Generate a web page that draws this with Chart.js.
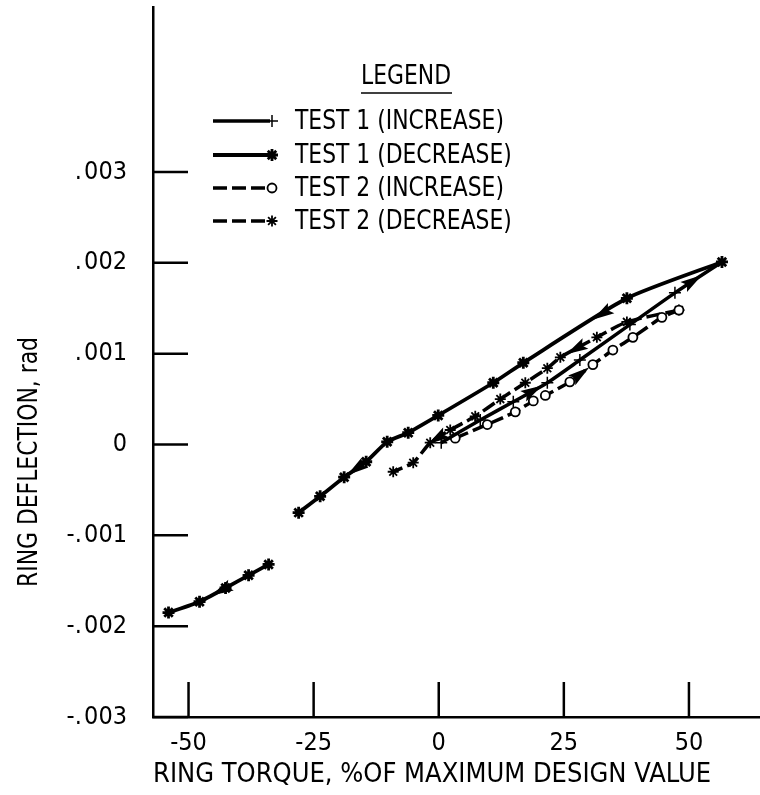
<!DOCTYPE html>
<html>
<head>
<meta charset="utf-8">
<script src="https://cdn.jsdelivr.net/npm/chart.js@4.4.1/dist/chart.umd.min.js"></script>
<style>
  html, body { margin: 0; padding: 0; background: #fff; overflow: hidden; }
  #wrap { width: 760px; height: 795px; position: relative; }
  canvas { display: block; }
</style>
</head>
<body>
<div id="wrap"><canvas id="chart"></canvas></div>
<script>
// Ticks
const xTickValues = [-50, -25, 0, 25, 50];
const yTickValues = [-0.003, -0.002, -0.001, 0, 0.001, 0.002, 0.003];
const yTickLabels = ['-.\u200A003', '-.\u200A002', '-.\u200A001', '0', '.\u200A001', '.\u200A002', '.\u200A003'];

// Series (torque in % of max design value, deflection in rad)
const seriesLabels = ['TEST 1 (INCREASE)', 'TEST 1 (DECREASE)', 'TEST 2 (INCREASE)', 'TEST 2 (DECREASE)'];

const test1IncTorque = [0.5, 8.3, 14.9, 21.7, 28.2, 38.2, 47.2, 56.6];
const test1IncDefl = [0.00002, 0.00027, 0.00047, 0.00068, 0.00093, 0.00132, 0.00167, 0.00201];

const test1DecTorque = [56.6, 37.6, 16.9, 10.9, -0.1, -6.1, -10.3, -14.5, -18.9, -23.7, -28.0, -31.0, -34.0, -38.0, -42.6, -47.8, -54.0];
const test1DecDefl = [0.00201, 0.00161, 0.00090, 0.00068, 0.00032, 0.00013, 0.00003, -0.00019, -0.00036, -0.00057, -0.00075, null, -0.00132, -0.00144, -0.00158, -0.00173, -0.00185];

const test2IncTorque = [3.3, 9.7, 15.3, 18.9, 21.3, 26.2, 30.8, 34.8, 38.8, 44.6, 48.0];
const test2IncDefl = [0.00007, 0.00022, 0.00036, 0.00048, 0.00054, 0.00069, 0.00088, 0.00104, 0.00118, 0.00140, 0.00148];

const test2DecTorque = [48.0, 37.6, 31.6, 24.3, 21.7, 17.3, 12.3, 7.3, 2.3, -1.7, -5.1, -9.1];
const test2DecDefl = [0.00148, 0.00135, 0.00118, 0.00096, 0.00084, 0.00068, 0.00050, 0.00031, 0.00016, 0.00002, -0.00020, -0.00030];

// Direction arrows: [dataset, segment start index, fraction along segment]
const arrowMarks = [
  [0, 2, 0.6], [0, 6, 0.4],
  [1, 1, 0.25], [1, 7, 0.5], [1, 14, 0.2],
  [2, 5, 0.5],
  [3, 2, 0.6], [3, 8, 0.7]
];

const FONT = "'DejaVu Sans Condensed', 'Liberation Sans Narrow', sans-serif";
Chart.defaults.font.family = FONT;
Chart.defaults.color = '#000';

function toPoints(xs, ys) {
  return xs.map((x, i) => ({ x: x, y: ys[i] }));
}

// tall, slightly condensed text like the original lettering
function tallText(ctx, text, x, y, size, align) {
  ctx.save();
  ctx.translate(x, y);
  ctx.scale(0.9, 1);
  ctx.font = size + 'px ' + FONT;
  ctx.textAlign = align;
  ctx.textBaseline = 'middle';
  ctx.fillText(text, 0, 0);
  ctx.restore();
}

// Draw inward tick marks, arrows, legend and y title
const decorPlugin = {
  id: 'decor',
  afterDatasetsDraw(chart) {
    const ctx = chart.ctx;
    const area = chart.chartArea;
    const xs = chart.scales.x;
    const ys = chart.scales.y;

    ctx.save();
    ctx.strokeStyle = '#000';
    ctx.lineWidth = 2.5;
    xs.ticks.forEach((t) => {
      const px = xs.getPixelForValue(t.value);
      ctx.beginPath();
      ctx.moveTo(px, area.bottom);
      ctx.lineTo(px, area.bottom - 35);
      ctx.stroke();
    });
    ys.ticks.forEach((t) => {
      const py = ys.getPixelForValue(t.value);
      ctx.beginPath();
      ctx.moveTo(area.left, py);
      ctx.lineTo(area.left + 35, py);
      ctx.stroke();
    });

    // arrows
    ctx.fillStyle = '#000';
    arrowMarks.forEach(([di, si, f]) => {
      const pts = chart.getDatasetMeta(di).data;
      const a = pts[si], b = pts[si + 1];
      if (!a || !b || a.skip || b.skip) return;
      const x = a.x + (b.x - a.x) * f;
      const y = a.y + (b.y - a.y) * f;
      const ang = Math.atan2(b.y - a.y, b.x - a.x);
      ctx.save();
      ctx.translate(x, y);
      ctx.rotate(ang);
      ctx.beginPath();
      ctx.moveTo(10, 0);
      ctx.lineTo(-12, -6);
      ctx.lineTo(-8, 0);
      ctx.lineTo(-12, 6);
      ctx.closePath();
      ctx.fill();
      ctx.restore();
    });

    // legend
    tallText(ctx, 'LEGEND', 406, 77, 27, 'center');
    ctx.lineWidth = 1.5;
    ctx.beginPath();
    ctx.moveTo(361, 93);
    ctx.lineTo(452, 93);
    ctx.stroke();

    const rowY = [121, 155, 188, 221];
    chart.data.datasets.forEach((ds, i) => {
      const y = rowY[i];
      ctx.save();
      ctx.strokeStyle = '#000';
      ctx.lineWidth = ds.borderWidth;
      ctx.setLineDash(ds.borderDash || []);
      ctx.beginPath();
      ctx.moveTo(213, y);
      ctx.lineTo(270, y);
      ctx.stroke();
      ctx.restore();
      ctx.save();
      ctx.fillStyle = ds.pointBackgroundColor;
      ctx.strokeStyle = '#000';
      ctx.lineWidth = ds.pointBorderWidth;
      Chart.helpers.drawPoint(ctx, {
        pointStyle: ds.pointStyle,
        radius: ds.pointRadius,
        borderWidth: ds.pointBorderWidth,
        rotation: 0
      }, 272, y);
      ctx.restore();
      ctx.fillStyle = '#000';
      tallText(ctx, ds.label, 295, y + 1, 27, 'left');
    });

    // y axis title
    ctx.save();
    ctx.translate(30, 462);
    ctx.rotate(-Math.PI / 2);
    tallText(ctx, 'RING DEFLECTION, rad', 0, 0, 27, 'center');
    ctx.restore();

    ctx.restore();
  }
};

const common = {
  showLine: true,
  fill: false,
  tension: 0.2,
  borderColor: '#000',
  pointBorderColor: '#000',
  spanGaps: false
};

new Chart(document.getElementById('chart'), {
  type: 'scatter',
  data: {
    datasets: [
      Object.assign({}, common, {
        label: seriesLabels[0],
        data: toPoints(test1IncTorque, test1IncDefl),
        borderWidth: 3.5,
        pointStyle: 'cross', pointRadius: 6, pointBorderWidth: 1.5,
        pointBackgroundColor: '#000'
      }),
      Object.assign({}, common, {
        label: seriesLabels[1],
        data: toPoints(test1DecTorque, test1DecDefl),
        borderWidth: 3.8,
        pointStyle: 'star', pointRadius: 6, pointBorderWidth: 2.8,
        pointBackgroundColor: '#000'
      }),
      Object.assign({}, common, {
        label: seriesLabels[2],
        data: toPoints(test2IncTorque, test2IncDefl),
        borderWidth: 3.5,
        borderDash: [14, 5],
        pointStyle: 'circle', pointRadius: 4.5, pointBorderWidth: 1.8,
        pointBackgroundColor: '#fff'
      }),
      Object.assign({}, common, {
        label: seriesLabels[3],
        data: toPoints(test2DecTorque, test2DecDefl),
        borderWidth: 3.5,
        borderDash: [14, 5],
        pointStyle: 'star', pointRadius: 5.5, pointBorderWidth: 1.8,
        pointBackgroundColor: '#000'
      })
    ]
  },
  options: {
    responsive: true,
    maintainAspectRatio: false,
    animation: false,
    layout: { autoPadding: false, padding: { top: 7, right: 0, left: 0, bottom: 0 } },
    plugins: {
      legend: { display: false },
      tooltip: { enabled: false }
    },
    scales: {
      x: {
        type: 'linear',
        min: -57.1,
        max: 64.2,
        afterBuildTicks: (scale) => { scale.ticks = xTickValues.map((v) => ({ value: v })); },
        afterFit: (scale) => {
          scale.height = 78;
          scale.paddingLeft = 0;
          scale.paddingRight = 0;
        },
        grid: { display: false, drawTicks: false },
        border: { display: true, color: '#000', width: 2.5 },
        ticks: { font: { size: 25 }, padding: 11 },
        title: {
          display: true,
          text: 'RING TORQUE, %OF MAXIMUM DESIGN VALUE',
          align: 'start',
          font: { size: 27 },
          padding: { top: 0, bottom: 4 }
        }
      },
      y: {
        type: 'linear',
        min: -0.003,
        max: 0.004817,
        afterBuildTicks: (scale) => { scale.ticks = yTickValues.map((v) => ({ value: v })); },
        afterFit: (scale) => {
          scale.width = 153;
          scale.paddingTop = 0;
          scale.paddingBottom = 0;
        },
        grid: { display: false, drawTicks: false },
        border: { display: true, color: '#000', width: 2.5 },
        ticks: {
          font: { size: 25 },
          padding: 26,
          callback: (v) => {
            const i = yTickValues.findIndex((t) => Math.abs(t - v) < 1e-9);
            return i >= 0 ? yTickLabels[i] : '';
          }
        }
      }
    }
  },
  plugins: [decorPlugin]
});
</script>
</body>
</html>
